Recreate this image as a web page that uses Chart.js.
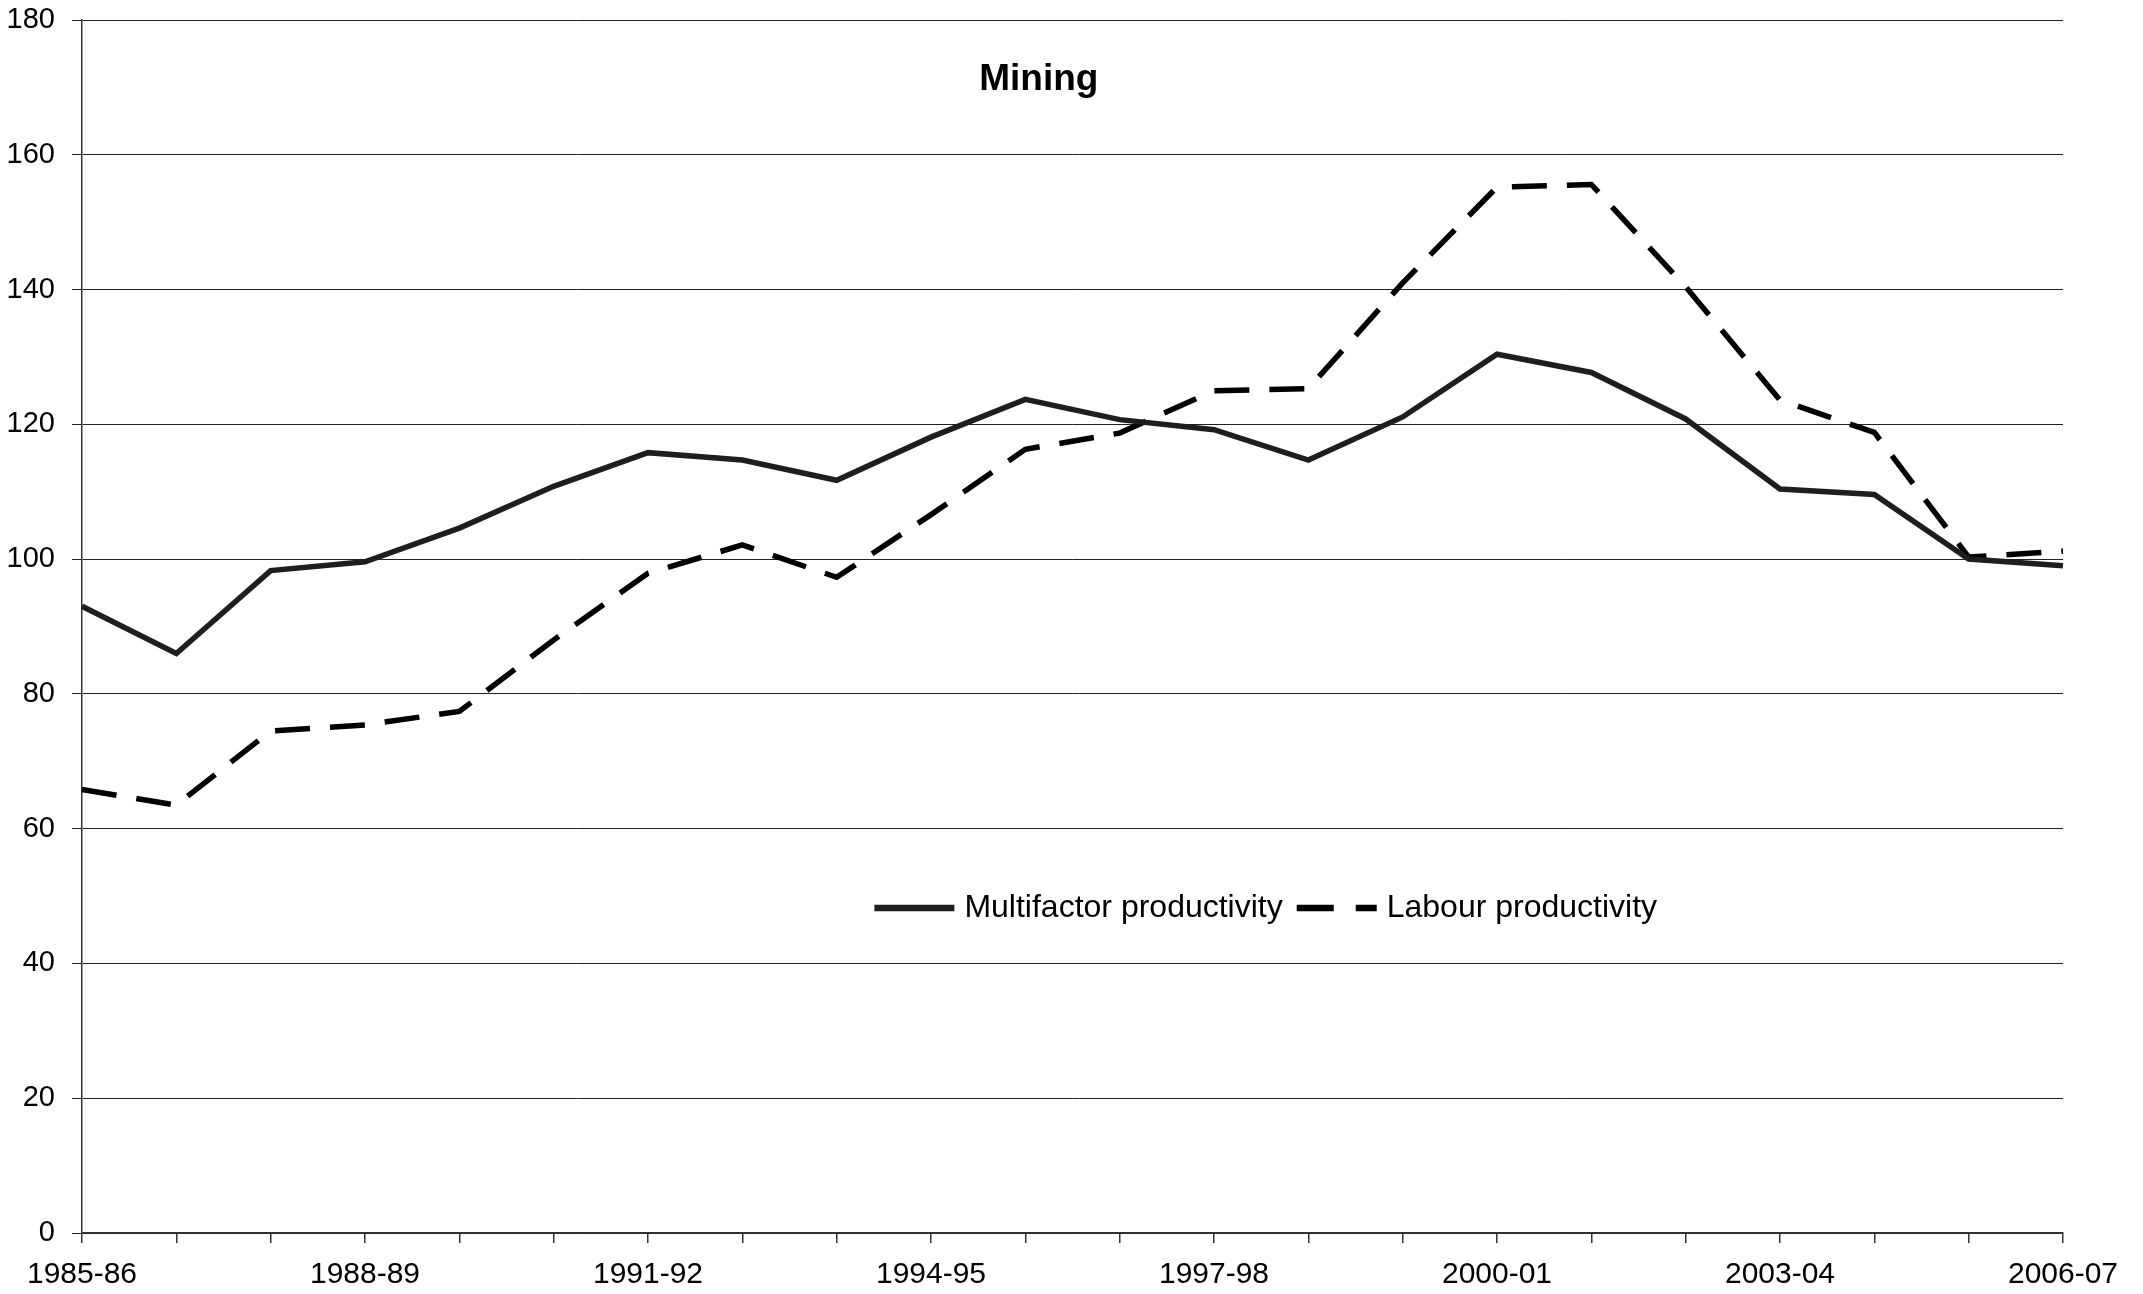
<!DOCTYPE html>
<html>
<head>
<meta charset="utf-8">
<script src="https://cdn.jsdelivr.net/npm/chart.js@4/dist/chart.umd.min.js"></script>
<style>
  html, body { margin: 0; padding: 0; background: #fff; }
  #wrap { width: 2143px; height: 1294px; }
</style>
</head>
<body>
<div id="wrap"><canvas id="miningChart" width="2143" height="1294"></canvas></div>
<script>
// Years (financial years) on the x axis
const years = ['1985-86', '1986-87', '1987-88', '1988-89', '1989-90', '1990-91', '1991-92',
    '1992-93', '1993-94', '1994-95', '1995-96', '1996-97', '1997-98', '1998-99', '1999-00',
    '2000-01', '2001-02', '2002-03', '2003-04', '2004-05', '2005-06', '2006-07'];

// Index values
const multifactor = [93.0, 86.0, 98.3, 99.6, 104.6, 110.8, 115.8, 114.7, 111.7, 118.1, 123.7,
    120.7, 119.2, 114.7, 121.1, 130.4, 127.7, 120.8, 110.4, 109.6, 100.0, 99.0];
const labour = [65.8, 63.5, 74.5, 75.4, 77.4, 88.0, 97.9, 102.1, 97.3, 106.6, 116.3,
    118.7, 125.0, 125.3, 141.0, 155.2, 155.6, 140.4, 123.6, 118.8, 100.3, 101.2];

// Y axis ticks
const yTicks = [0, 20, 40, 60, 80, 100, 120, 140, 160, 180];

const FONT = "'Liberation Sans', Arial, sans-serif";

// Title and legend sit inside the plot area, so draw them by hand
const insidePlugin = {
    id: 'inside',
    afterDraw(chart) {
        const ctx = chart.ctx;
        const a = chart.chartArea;
        const w = a.right - a.left;
        const h = a.bottom - a.top;
        ctx.save();

        // Title
        ctx.fillStyle = '#000';
        ctx.font = 'bold 37px ' + FONT;
        ctx.textAlign = 'center';
        ctx.textBaseline = 'middle';
        ctx.fillText('Mining', a.left + w * 0.483, a.top + h * 0.049);

        // Legend
        let x = a.left + w * 0.4;
        const y = a.top + h * 0.732;
        ctx.font = '32px ' + FONT;
        ctx.textAlign = 'left';
        chart.data.datasets.forEach(ds => {
            ctx.strokeStyle = ds.borderColor;
            ctx.lineWidth = ds.borderWidth + 1;
            ctx.setLineDash(ds.borderDash ? [37, 22] : []);
            ctx.beginPath();
            ctx.moveTo(x, y);
            ctx.lineTo(x + 80, y);
            ctx.stroke();
            ctx.setLineDash([]);
            x += 90;
            ctx.fillStyle = '#000';
            ctx.fillText(ds.label, x, y);
            x += ctx.measureText(ds.label).width + 14;
        });
        ctx.restore();
    }
};

const data = {
    labels: years,
    datasets: [
        {
            label: 'Multifactor productivity',
            data: multifactor,
            borderColor: '#1e1e1e',
            borderWidth: 5.5,
            pointRadius: 0,
            tension: 0
        },
        {
            label: 'Labour productivity',
            data: labour,
            borderColor: '#000',
            borderWidth: 5.5,
            borderDash: [35, 20],
            pointRadius: 0,
            tension: 0
        }
    ]
};

const config = {
    type: 'line',
    data: data,
    plugins: [insidePlugin],
    options: {
        responsive: false,
        animation: false,
        layout: { padding: { top: 20, right: 80, left: 0, bottom: 0 } },
        plugins: {
            legend: { display: false },
            title: { display: false },
            tooltip: { enabled: false }
        },
        scales: {
            x: {
                offset: false,
                border: { color: '#333', width: 1.5 },
                grid: { drawOnChartArea: false, drawTicks: true, tickLength: 10, color: '#333', lineWidth: 1.5 },
                ticks: {
                    autoSkip: false,
                    maxRotation: 0,
                    padding: 14,
                    color: '#000',
                    font: { family: FONT, size: 30 },
                    callback: (v, i) => (i % 3 === 0 ? years[i] : '')
                },
                afterFit: s => { s.height = 61; }
            },
            y: {
                min: 0,
                max: 180,
                border: { color: '#333', width: 1.5 },
                grid: { color: '#222', lineWidth: 1, tickLength: 10 },
                afterBuildTicks: s => { s.ticks = yTicks.map(v => ({ value: v })); },
                ticks: {
                    padding: 17,
                    color: '#000',
                    font: { family: FONT, size: 29 }
                },
                // fixed axis width, and no extra room for the top label
                afterFit: s => { s.width = 82; s.paddingTop = 0; s.paddingBottom = 0; }
            }
        }
    }
};

const canvas = document.getElementById('miningChart');
canvas.chart = new Chart(canvas, config);
</script>
</body>
</html>
